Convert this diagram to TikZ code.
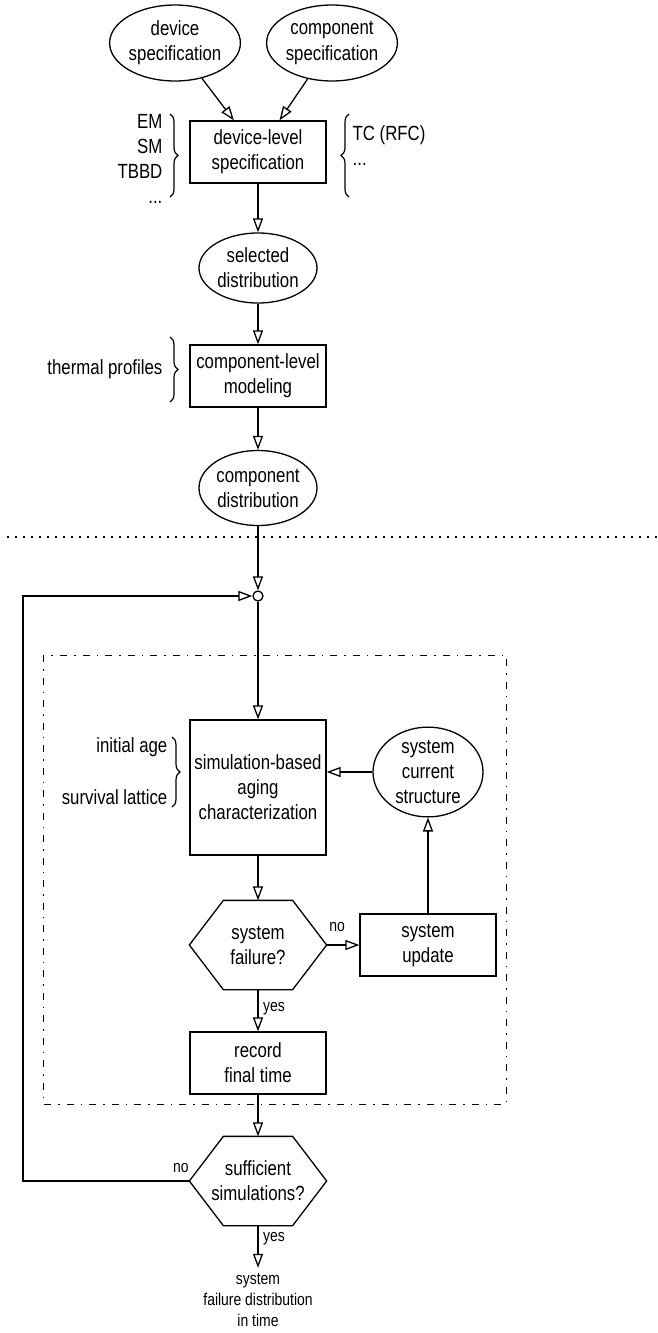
\documentclass[tikz,border=0pt]{standalone}
\usepackage{fontspec}
\setmainfont{Liberation Sans}[FakeStretch=0.82]
\usetikzlibrary{arrows.meta,shapes.geometric,decorations.pathreplacing,calc}
\begin{document}
\begin{tikzpicture}[x=1pt,y=-1pt, line width=1.3pt,
  every node/.style={font=\fontsize{20.5}{25}\selectfont, align=center},
  box/.style={draw, rectangle, minimum width=136pt, minimum height=62pt, inner sep=0pt},
  oval/.style={draw, ellipse, inner sep=0pt},
  hexa/.style={rectangle, minimum width=136pt, minimum height=88pt, inner sep=0pt},
  arr/.style={-{Triangle[open,length=14pt,width=10pt]}},
  lbl/.style={font=\fontsize{17}{21}\selectfont, inner sep=0pt},
  side/.style={inner sep=0pt},
  brc/.style={decorate, decoration={brace, amplitude=8pt}, line width=1.2pt},
]
\useasboundingbox (0,0) rectangle (657,1333);

% top part
\node[oval, minimum width=116pt, minimum height=76pt] (ds) at (175,43) {device\\specification};
\node[oval, minimum width=118pt, minimum height=76pt] (cs) at (332,43) {component\\specification};
\node[box] (dls) at (258,152) {device-level\\specification};
\node[oval, minimum width=118pt, minimum height=70pt] (sd) at (258,268) {selected\\distribution};
\node[box] (clm) at (258,376) {component-level\\modeling};
\node[oval, minimum width=118pt, minimum height=75pt] (cd) at (258,488) {component\\distribution};

\draw[arr] (ds) -- (dls);
\draw[arr] (cs) -- (dls);
\draw[arr] (dls) -- (sd);
\draw[arr] (sd) -- (clm);
\draw[arr] (clm) -- (cd);

% side notes
\node[side, anchor=east, align=right] (mech) at (163,159) {EM\\SM\\TBBD\\...};
\draw[brc] (170,114) -- (170,197);
\node[side, anchor=west, align=left] (tc) at (352,146) {TC (RFC)\\...};
\draw[brc] (349,197) -- (349,114);
\node[side, anchor=east] (tp) at (163,369) {thermal profiles};
\draw[brc] (170,337) -- (170,402);

% separator
\draw[line width=1.1pt, dash pattern=on 1.5pt off 6.5pt] (7,537) -- (657,537);

% junction
\node[draw, circle, minimum size=10pt, inner sep=0pt] (jn) at (258,596) {};
\draw[arr] (cd) -- (jn);

% simulation frame
\draw[line width=1pt, dash pattern=on 7pt off 7pt on 1.5pt off 7pt] (43,655) rectangle (506,1104);

\node[box, minimum height=135pt] (sim) at (258,787.5) {simulation-based\\aging\\characterization};
\node[oval, minimum width=110pt, minimum height=86pt] (scs) at (428,772) {system\\current\\structure};
\node[hexa] (sf) at (258,945) {system\\failure?};
\draw (sf.west) -- ([xshift=34pt]sf.north west) -- ([xshift=-34pt]sf.north east) -- (sf.east)
  -- ([xshift=-34pt]sf.south east) -- ([xshift=34pt]sf.south west) -- cycle;
\node[box] (su) at (428,945) {system\\update};
\node[box] (rec) at (258,1063) {record\\final time};

\node[side, anchor=east] (ia) at (168,747) {initial age};
\node[side, anchor=east] (sl) at (168,797) {survival lattice};
\draw[brc] (172,737) -- (172,807);

\draw[arr] (jn) -- (sim);
\draw[arr] (scs.west) -- (sim.east |- scs.west);
\draw[arr] (sim) -- (sf);
\draw[arr] (sf.east) -- (su.west);
\draw[arr] (su) -- (scs);
\draw[arr] (sf.south) -- (rec);
\node[lbl] (no1) at (337,927) {no};
\node[lbl] (yes1) at (274,1009) {yes};

% bottom decision
\node[hexa] (ss) at (258,1181) {sufficient\\simulations?};
\draw (ss.west) -- ([xshift=34pt]ss.north west) -- ([xshift=-34pt]ss.north east) -- (ss.east)
  -- ([xshift=-34pt]ss.south east) -- ([xshift=34pt]ss.south west) -- cycle;
\draw[arr] (rec) -- (ss.north);

\coordinate (lp) at (23,1181);
\draw[arr] (ss.west) -- (lp) |- (jn);
\node[lbl] (no2) at (181,1168) {no};

\node[lbl, inner ysep=5pt] (out) at (258,1300) {system\\failure distribution\\in time};
\draw[arr] (ss.south) -- (out);
\node[lbl] (yes2) at (274,1239) {yes};
\end{tikzpicture}
\end{document}
